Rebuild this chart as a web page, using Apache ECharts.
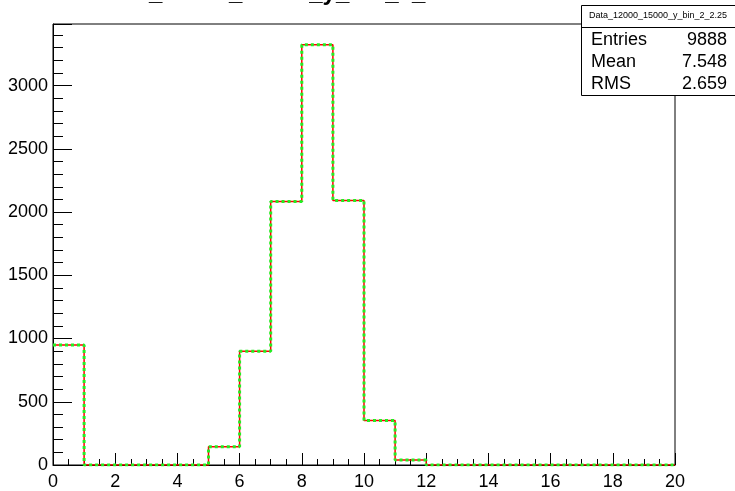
<!DOCTYPE html>
<html>
<head>
<meta charset="utf-8">
<script src="https://cdn.jsdelivr.net/npm/echarts@6/dist/echarts.min.js"></script>
<style>
html,body{margin:0;padding:0;background:#fff;}
#c{width:735px;height:491px;}
</style>
</head>
<body>
<div id="c"></div>
<script>
// bin edges 0..20, width 1
var binEdges = [0,1,2,3,4,5,6,7,8,9,10,11,12,13,14,15,16,17,18,19,20];
var dataValues = [948, 0, 0, 0, 0, 145, 900, 2084, 3323, 2092, 351, 39, 0, 0, 0, 0, 0, 0, 0, 0];
var mcValues   = [948, 0, 0, 0, 0, 145, 900, 2084, 3323, 2092, 351, 39, 0, 0, 0, 0, 0, 0, 0, 0];
var histTitle = 'Data_12000_15000_y_bin_2_2.25';
var statNames = ['Entries', 'Mean', 'RMS'];
var statValues = ['9888', '7.548', '2.659'];
var xTicks = [0,2,4,6,8,10,12,14,16,18,20];
var yMax = 3487;

function steps(vals){
  var pts = [];
  for (var i = 0; i < vals.length; i++) pts.push([binEdges[i], vals[i]]);
  pts.push([binEdges[vals.length], vals[vals.length-1]]);
  return pts;
}

var chart = echarts.init(document.getElementById('c'), null, {renderer:'canvas'});
var font = 'Liberation Sans, Arial, Helvetica, sans-serif';
var statTexts = [];
for (var k = 0; k < statNames.length; k++) {
  statTexts.push({type:'text', left:591, top:31 + k*22, style:{text:statNames[k], font:'18px ' + font, fill:'#000'}});
  statTexts.push({type:'text', right:8, top:31 + k*22, style:{text:statValues[k], font:'18px ' + font, fill:'#000', textAlign:'right'}});
}

chart.setOption({
  animation:false,
  backgroundColor:'#fff',
  grid:{left:53, top:24, right:60, bottom:20, show:true, borderColor:'#000', borderWidth:1, backgroundColor:'transparent'},
  xAxis:{
    type:'value', min:0, max:20, interval:2,
    axisLine:{show:true, onZero:false, lineStyle:{color:'#000', width:1}},
    axisTick:{show:true, inside:true, length:12, lineStyle:{color:'#000'}},
    minorTick:{show:true, splitNumber:4, length:6, lineStyle:{color:'#000'}},
    splitLine:{show:false}, minorSplitLine:{show:false},
    axisLabel:{color:'#000', fontSize:18, fontFamily:font, margin:8,
      formatter:function(v){ return xTicks.indexOf(v) >= 0 ? String(v) : ''; }}
  },
  yAxis:{
    type:'value', min:0, max:yMax, interval:500,
    axisLine:{show:true, lineStyle:{color:'#000', width:1}},
    axisTick:{show:true, inside:true, length:19, lineStyle:{color:'#000'}},
    minorTick:{show:true, splitNumber:5, length:10, lineStyle:{color:'#000'}},
    splitLine:{show:false}, minorSplitLine:{show:false},
    axisLabel:{color:'#000', fontSize:18, fontFamily:font, margin:5, showMaxLabel:false,
      formatter:function(v){ return String(v); }}
  },
  series:[
    {type:'line', step:'end', data:steps(dataValues), symbol:'none',
     lineStyle:{color:'#ff0000', width:1.5}, z:2},
    {type:'line', step:'end', data:steps(mcValues), symbol:'none',
     lineStyle:{color:'#22ee22', width:3, type:[3,3]}, z:3}
  ],
  graphic:[
    {type:'text', left:97, top:-19, style:{text:histTitle, font:'bold 24px ' + font, fill:'#000'}},
    {type:'rect', shape:{x:581.5, y:5.5, width:160, height:90}, style:{fill:'#fff', stroke:'#000', lineWidth:1}, z:10},
    {type:'line', shape:{x1:581.5, y1:27.5, x2:735, y2:27.5}, style:{stroke:'#000', lineWidth:1}, z:11},
    {type:'text', x:658, y:16, style:{text:histTitle, font:'9px ' + font, fill:'#000', textAlign:'center', textVerticalAlign:'middle'}, z:11}
  ].concat(statTexts.map(function(t){ t.z = 11; return t; }))
});
</script>
</body>
</html>
